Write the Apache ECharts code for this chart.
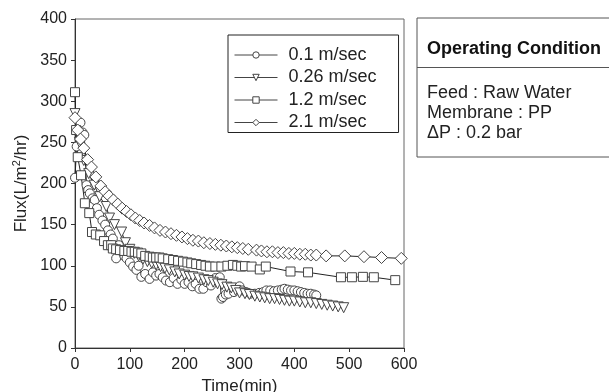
<!DOCTYPE html>
<html><head><meta charset="utf-8">
<script src="https://cdn.jsdelivr.net/npm/echarts@6/dist/echarts.min.js"></script>
<style>html,body{margin:0;padding:0;background:#fff}#c{width:609px;height:392px}</style>
</head><body><div id="c"></div>
<script>
const seriesNames = ['0.1 m/sec', '0.26 m/sec', '1.2 m/sec', '2.1 m/sec'];
const xTicks = [0, 100, 200, 300, 400, 500, 600];
const yTicks = [0, 50, 100, 150, 200, 250, 300, 350, 400];

const t01 = [0,3,10,14,17,21,24,27,32,36,40,44,50,55,60,65,69,72,75,80,85,90,94,100,106,112,116,121,128,136,142,148,154,160,166,173,180,187,194,200,207,214,220,227,234,240,248,256,264,267,270,275,280,290,300,305,312,320,328,336,343,349,356,363,370,377,382,388,394,400,406,412,418,424,430,436,440];
const f01 = [207,245,274,262,259,198,192,188,182,180,170,162,155,150,143,138,133,120,109,125,118,112,109,104,99,95,100,86.5,90,84,92,88,90,86,82,80,85,78,83,78,80,75,78,72,72,80,76,85,86,60,62,65,66,68,75,70,68,66,66,67,68,70,70,69,70,71,72,71,70,70,69,68,67,66,66,65,64];

const t026 = [0,8,16,25,35,45,57,63,72,85,92,100,108,116,124,132,140,148,156,164,172,182,190,200,208,215,225,235,243,252,260,268,277,285,293,300,310,318,328,337,346,355,364,373,382,391,400,410,420,430,440,450,460,470,480,490];
const f026 = [285,250,228,212,198,184,172,158,150,141,128,120,115,112,108,105,103,101,99,97,95,92.5,90,88.6,87,86.5,85,83,82,80,78,77,74,73,70,67,66,65,63,62,61,60,60,59,58,57,57,56,55,55,54,53,52,51,50,49];

const t12 = [0,2,5,11,18,26,31,38,46,53,60,66,69,75,82,90,97,103,109,115,121,128,136,142,148,154,160,170,179,188,197,205,212,221,230,238,246,256,267,278,288,296,303,310,322,337,348,393,425,485,505,525,545,584];
const f12 = [311,265,232,210,176,164,141,138,137,130,125,125,121,120,119,118,118,117,117,116,115,112,111,110,110,110,109,108,107,106,105,104,103,102,101,100,99,99,99,100,101,100,99,99.5,99,95.5,99,93,92,86,86,86.5,86,82.5];

const t21 = [0,5,10,16,23,30,38,47,55,62,70,78,86,94,102,110,118,126,136,145,155,165,175,185,195,205,215,225,235,246,256,266,276,286,296,306,316,331,340,350,360,370,380,390,400,410,420,430,440,458,492,527,559,595];
const f21 = [280,265,254,243,229,220,208,197,190,185,180,175,170,166,162,158,155,152,149,146,143,141,139,137,135,133,131,130,128,127,126,125,124,123,122,121,120,119,118,117,117,116,116,115,115,114,114,113,113,112,112,111,110,109];

const zip = (a, b) => a.map((v, i) => [v, b[i]]);
const chart = echarts.init(document.getElementById('c'), null, {renderer: 'canvas'});
const FONT = 'Liberation Sans, Arial, sans-serif';
const mk = (name, t, f, symbol, size, rot) => ({
  name, type: 'line', data: zip(t, f), symbol, symbolSize: size, symbolRotate: rot || 0,
  showAllSymbol: true,
  lineStyle: {color: '#222', width: 1},
  itemStyle: {color: '#fff', borderColor: '#444', borderWidth: 1},
  emphasis: {disabled: true}, animation: false
});
chart.setOption({
  animation: false,
  textStyle: {fontFamily: FONT},
  grid: {left: 75, right: 205, top: 19, bottom: 44, show: true, borderColor: '#666', borderWidth: 1,
         containLabel: false, outerBoundsMode: 'none'},
  xAxis: {
    type: 'value', min: 0, max: 600, interval: 100,
    name: 'Time(min)', nameLocation: 'middle', nameGap: 26,
    nameTextStyle: {fontSize: 17, color: '#222', fontFamily: FONT},
    axisLine: {lineStyle: {color: '#333'}}, axisTick: {length: 4, lineStyle: {color: '#333'}},
    axisLabel: {fontSize: 16, color: '#222', margin: 9, fontFamily: FONT,
      formatter: v => xTicks.includes(v) ? String(v) : ''},
    splitLine: {show: false}
  },
  yAxis: {
    type: 'value', min: 0, max: 400, interval: 50,
    name: '{a|Flux(L/m}{s|2}{a|/hr)}', nameLocation: 'middle', nameGap: 39, nameRotate: 90,
    nameTextStyle: {fontSize: 17, color: '#222', fontFamily: FONT,
      rich: {a: {fontSize: 17, color: '#222', fontFamily: FONT},
             s: {fontSize: 11, color: '#222', fontFamily: FONT, verticalAlign: 'top', padding: [0, 0, 8, 0]}}},
    axisLine: {show: true, lineStyle: {color: '#333'}}, axisTick: {show: true, length: 4, lineStyle: {color: '#333'}},
    axisLabel: {fontSize: 16, color: '#222', margin: 8, fontFamily: FONT,
      formatter: v => yTicks.includes(v) ? String(v) : ''},
    splitLine: {show: false}
  },
  legend: {
    orient: 'vertical', left: 228, top: 35,
    data: seriesNames,
    backgroundColor: '#fff', borderColor: '#222', borderWidth: 1,
    padding: [11, 22, 1, 6], itemGap: 4.5, itemWidth: 43, itemHeight: 8,
    lineStyle: {width: 1, color: '#444'},
    itemStyle: {color: '#fff', borderColor: '#444', borderWidth: 1},
    textStyle: {fontSize: 18, lineHeight: 18, color: '#222', fontFamily: FONT, padding: [0, 0, 0, 6]},
    selectedMode: false
  },
  graphic: [
    {type: 'rect', shape: {x: 417, y: 18, width: 200, height: 139}, style: {fill: '#fff', stroke: '#555', lineWidth: 1}, z: 100},
    {type: 'line', shape: {x1: 417, y1: 67.5, x2: 610, y2: 67.5}, style: {stroke: '#555', lineWidth: 1}, z: 101},
    {type: 'text', x: 427, y: 49, style: {text: 'Operating Condition', font: 'bold 18px ' + FONT, fill: '#111', textVerticalAlign: 'middle'}, z: 101},
    {type: 'text', x: 427, y: 93, style: {text: 'Feed : Raw Water', font: '18px ' + FONT, fill: '#222', textVerticalAlign: 'middle'}, z: 101},
    {type: 'text', x: 427, y: 113, style: {text: 'Membrane : PP', font: '18px ' + FONT, fill: '#222', textVerticalAlign: 'middle'}, z: 101},
    {type: 'text', x: 427, y: 133, style: {text: '\u0394P : 0.2 bar', font: '18px ' + FONT, fill: '#222', textVerticalAlign: 'middle'}, z: 101}
  ],
  series: [
    mk(seriesNames[0], t01, f01, 'circle', 9),
    mk(seriesNames[1], t026, f026, 'triangle', 10, 180),
    mk(seriesNames[2], t12, f12, 'rect', 9),
    mk(seriesNames[3], t21, f21, 'diamond', 12)
  ]
});
</script></body></html>
